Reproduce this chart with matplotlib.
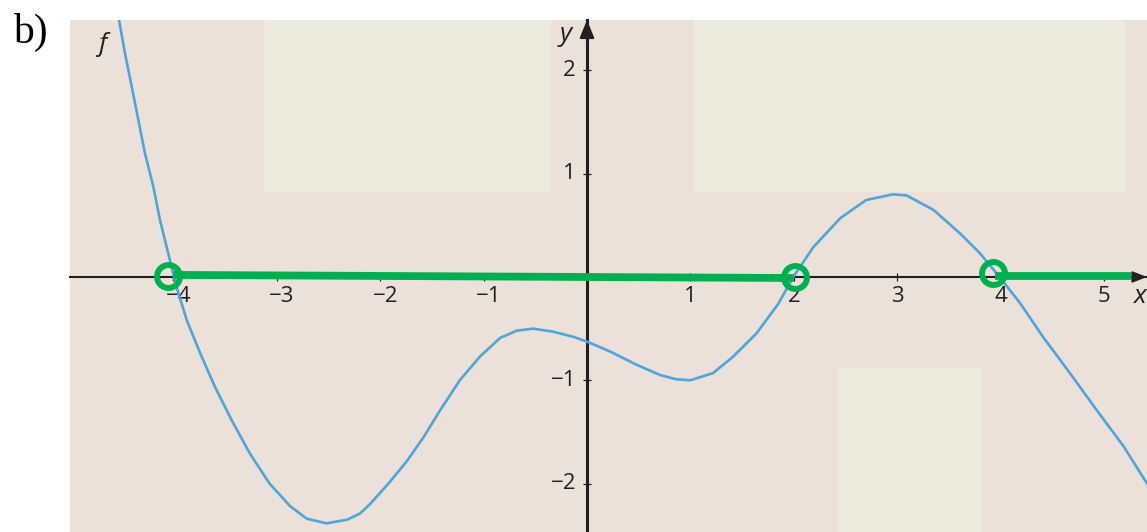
import matplotlib
matplotlib.use("Agg")
import matplotlib.pyplot as plt
from matplotlib.patches import Rectangle
from matplotlib.transforms import offset_copy

# ---- data ----
curve_x = [-4.526, -4.468, -4.403, -4.339, -4.275, -4.194, -4.13, -4.05, -3.97, -3.87,
           -3.74, -3.60, -3.44, -3.26, -3.07, -2.87, -2.71, -2.52, -2.32, -2.195,
           -2.10, -1.92, -1.74, -1.58, -1.42, -1.23, -1.035, -0.84, -0.68, -0.52,
           -0.325, -0.13, 0.00, 0.22, 0.48, 0.71, 0.86, 1.00, 1.22, 1.415, 1.64,
           1.85, 1.995, 2.19, 2.45, 2.70, 2.96, 3.09, 3.35, 3.61, 3.80, 3.99, 4.19,
           4.41, 4.67, 4.93, 5.19, 5.416]
curve_y = [2.488, 2.165, 1.842, 1.520, 1.197, 0.874, 0.552, 0.229, -0.094, -0.42,
           -0.74, -1.06, -1.38, -1.71, -2.00, -2.22, -2.34, -2.385, -2.35, -2.29,
           -2.20, -2.00, -1.78, -1.55, -1.29, -1.00, -0.77, -0.59, -0.52, -0.50,
           -0.53, -0.58, -0.626, -0.72, -0.85, -0.95, -0.99, -1.00, -0.93, -0.77, -0.545,
           -0.26, 0.00, 0.29, 0.57, 0.745, 0.80, 0.79, 0.65, 0.42, 0.23, 0.00, -0.255,
           -0.58, -0.93, -1.29, -1.64, -2.00]

green_seg1_x = [-4.0, 2.0]
green_seg1_y = [0.02, -0.01]
green_seg2_x = [3.95, 5.26]
green_seg2_y = [0.01, 0.01]
circle_x = [-4.05, 2.01, 3.93]
circle_y = [0.01, 0.0, 0.035]

xticks = [-4, -3, -2, -1, 1, 2, 3, 4, 5]
yticks = [-2, -1, 1, 2]

# light panels: (x0, x1, y0, y1)
panel_x0 = [-3.124, 1.035, 2.43]
panel_x1 = [-0.348, 5.203, 3.81]
panel_y0 = [0.826, 0.826, -2.60]
panel_y1 = [2.60, 2.60, -0.884]

XLIM = (-5.0, 5.416)
YLIM = (-2.469, 2.488)

BG = "#ECE1D8"
PANEL = "#ECEBDC"
BLUE = "#4FA5DA"
GREEN = "#00B050"
INK = "#231F20"

plt.rcParams['font.family'] = ['Open Sans', 'DejaVu Sans']

fig = plt.figure(figsize=(11.47, 5.32), dpi=100)
ax = fig.add_axes([70/1147, 0, 1077/1147, 512/532])
ax.set_facecolor(BG)
ax.set_xlim(*XLIM)
ax.set_ylim(*YLIM)

for x0, x1, y0, y1 in zip(panel_x0, panel_x1, panel_y0, panel_y1):
    ax.add_patch(Rectangle((x0, y0), x1 - x0, y1 - y0, facecolor=PANEL,
                           edgecolor='none', zorder=0.5))

# axes through origin
for s in ['top', 'right']:
    ax.spines[s].set_visible(False)
ax.spines['left'].set_position(('data', 0))
ax.spines['bottom'].set_position(('data', 0))
ax.spines['left'].set_linewidth(2.2)
ax.spines['bottom'].set_linewidth(1.5)
ax.spines['left'].set_color(INK)
ax.spines['bottom'].set_color(INK)
ax.spines['left'].set_zorder(2)
ax.spines['bottom'].set_zorder(2)
ax.set_xticks(xticks)
ax.set_yticks(yticks)
ax.set_xticklabels([])
ax.set_yticklabels([])
ax.tick_params(direction='inout', length=6, width=0.9, color=INK)

# arrows
ax.annotate('', xy=(XLIM[1], 0), xytext=(XLIM[1] - 0.2, 0),
            arrowprops=dict(arrowstyle='-|>,head_length=0.9,head_width=0.35',
                            color=INK, lw=1.2, shrinkA=0, shrinkB=0), zorder=3,
            annotation_clip=False)
ax.annotate('', xy=(0, YLIM[1]), xytext=(0, YLIM[1] - 0.25),
            arrowprops=dict(arrowstyle='-|>,head_length=1.1,head_width=0.45',
                            color=INK, lw=1.5, shrinkA=0, shrinkB=0), zorder=3,
            annotation_clip=False)

# tick labels
for t in xticks:
    dx = 5 if t < 0 else 0
    tr = offset_copy(ax.transData, fig=fig, x=dx, y=-20, units='dots')
    ax.text(t, 0, f"{t}".replace('-', '\u2212'), transform=tr, ha='center', va='center',
            fontsize=16, color=INK)
for t in yticks:
    tr = offset_copy(ax.transData, fig=fig, x=-11, y=0, units='dots')
    ax.text(0, t, f"{t}".replace('-', '\u2212'), transform=tr, ha='right', va='center',
            fontsize=16, color=INK)

# curve
ax.plot(curve_x, curve_y, color=BLUE, lw=1.9, zorder=3, solid_joinstyle='round',
        solid_capstyle='round')

# green
ax.plot(green_seg1_x, green_seg1_y, color=GREEN, lw=5.6, zorder=4, solid_capstyle='butt')
ax.plot(green_seg2_x, green_seg2_y, color=GREEN, lw=5.6, zorder=4, solid_capstyle='butt')
ax.plot(circle_x, circle_y, linestyle='none', marker='o', markersize=16.5,
        markerfacecolor='none', markeredgecolor=GREEN, markeredgewidth=4.3, zorder=5)

# axis letters
ax.text(-4.68, 2.25, 'f', style='italic', fontsize=19, color=INK, ha='center', va='center')
ax.text(-0.21, 2.35, 'y', style='italic', fontsize=19, color=INK, ha='center', va='center')
ax.text(5.35, -0.19, 'x', style='italic', fontsize=19, color=INK, ha='center', va='center',
        clip_on=False)

fig.text(13/1147, 1 - 43/532, 'b)', fontsize=30, family='Liberation Serif',
         ha='left', va='baseline', color='black')

fig.savefig('out.png', dpi=100, facecolor='white')
